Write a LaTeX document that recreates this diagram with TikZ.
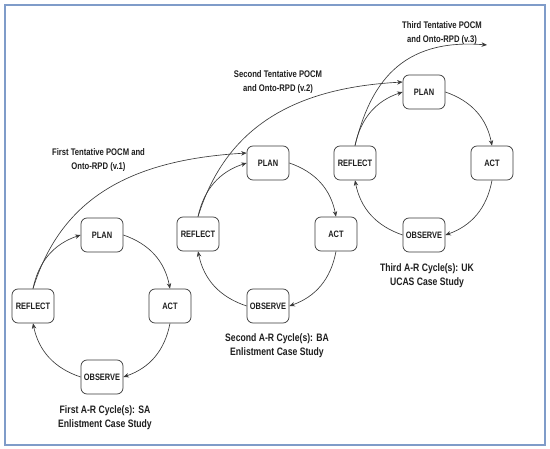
\documentclass[tikz,border=0pt]{standalone}
\usepackage{fontspec}
\setmainfont[FakeStretch=0.8]{Liberation Sans}
\usetikzlibrary{arrows.meta}
\definecolor{frameblue}{HTML}{7F9CC9}
\definecolor{ink}{HTML}{3A3A3A}
\definecolor{txt}{HTML}{1E1E1E}
\begin{document}
\begin{tikzpicture}[x=1pt,y=-1pt,
  box/.style={draw=ink, line width=0.7pt, rounded corners=6pt, fill=white,
    minimum width=42pt, minimum height=34pt, inner sep=1pt, text=txt,
    font=\bfseries\fontsize{9.3}{10}\selectfont},
  obox/.style={box},
  flow/.style={draw=ink, line width=0.65pt, -{Stealth[length=5.5pt,width=4.5pt]}},
  lbl/.style={align=center, text=txt, inner sep=0pt,
    font=\bfseries\fontsize{9.6}{14}\selectfont},
  cyclecaption/.style={align=center, text=txt, inner sep=0pt,
    font=\bfseries\fontsize{10.8}{13.5}\selectfont}]
\useasboundingbox (0,0) rectangle (550,449);
\draw[frameblue, line width=1.5pt] (5,5) rectangle (545,445);

% Cycle 1
\node[box]  (p1) at (102,235) {PLAN};
\node[box]  (a1) at (170,306) {ACT};
\node[obox] (o1) at (102,377) {OBSERVE};
\node[box]  (r1) at (33,306)  {REFLECT};
% Cycle 2
\node[box]  (p2) at (268,163) {PLAN};
\node[box]  (a2) at (336,234) {ACT};
\node[obox] (o2) at (268,306) {OBSERVE};
\node[box]  (r2) at (198,234) {REFLECT};
% Cycle 3
\node[box]  (p3) at (424,92)  {PLAN};
\node[box]  (a3) at (492,163) {ACT};
\node[obox] (o3) at (424,235) {OBSERVE};
\node[box]  (r3) at (355,163) {REFLECT};

\foreach \i in {1,2,3}{
  \draw[flow] (p\i.east) to[bend left=30] (a\i.north);
  \draw[flow] (a\i.south) to[bend left=30] (o\i.east);
  \draw[flow] (o\i.west) to[bend left=30] (r\i.south);
  \draw[flow] (r\i.north) to[bend left=30] (p\i.west);
}

% Tentative model curves
\draw[flow] (r1.north) .. controls (60,202) and (125,160) .. (p2.155);
\draw[flow] (r2.north) .. controls (225,130) and (290,88) .. (p3.155);
\coordinate (v3end) at (487,45);
\draw[flow] (r3.north) .. controls (370,85) and (400,38) .. (v3end);

\node[lbl] (l1) at (98.5,160.5) {First Tentative POCM and\\Onto-RPD (v.1)};
\node[lbl] (l2) at (278,82.5) {Second Tentative POCM\\and Onto-RPD (v.2)};
\node[lbl] (l3) at (442,33) {Third Tentative POCM\\and Onto-RPD (v.3)};

\node[cyclecaption] (c1) at (105,417.5) {First A-R Cycle(s): SA\\Enlistment Case Study};
\node[cyclecaption] (c2) at (277,345.5) {Second A-R Cycle(s): BA\\Enlistment Case Study};
\node[cyclecaption] (c3) at (427,275.5) {Third A-R Cycle(s): UK\\UCAS Case Study};
\end{tikzpicture}
\end{document}
